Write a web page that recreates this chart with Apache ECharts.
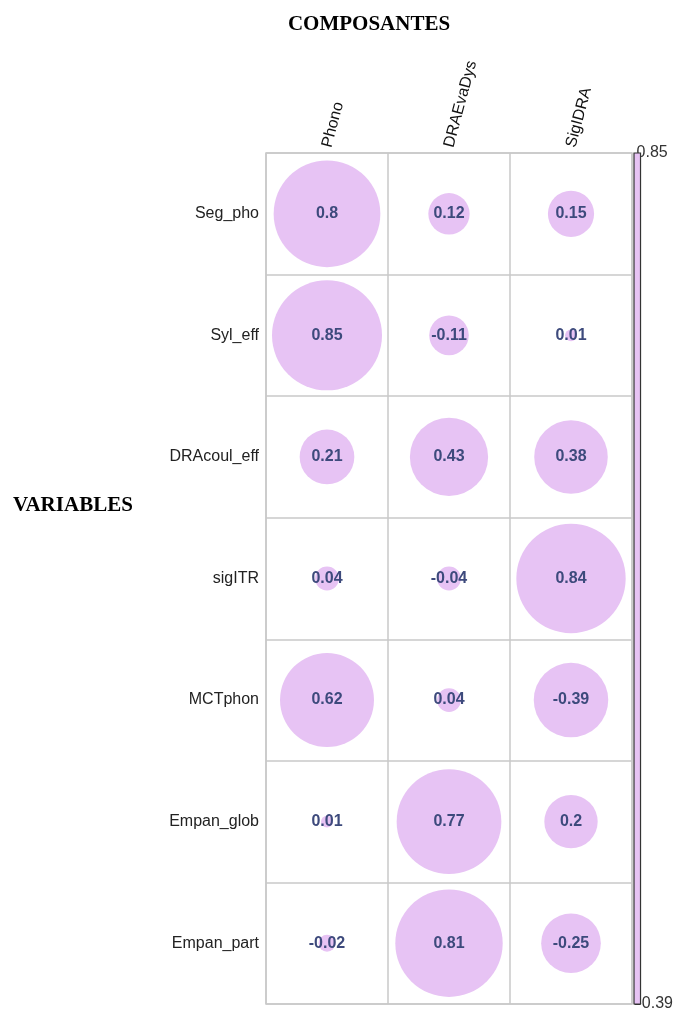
<!DOCTYPE html>
<html>
<head>
<meta charset="utf-8">
<script src="https://cdn.jsdelivr.net/npm/echarts@6/dist/echarts.min.js"></script>
<style>
  html, body { margin: 0; padding: 0; background: #fff; }
  #chart { width: 676px; height: 1014px; }
</style>
</head>
<body>
<div id="chart"></div>
<script>
// Loadings of each variable on the three components
const components = ['Phono', 'DRAEvaDys', 'SigIDRA'];
const variables = ['Seg_pho', 'Syl_eff', 'DRAcoul_eff', 'sigITR', 'MCTphon', 'Empan_glob', 'Empan_part'];
const phono     = [0.8, 0.85, 0.21, 0.04, 0.62, 0.01, -0.02];
const draEvaDys = [0.12, -0.11, 0.43, -0.04, 0.04, 0.77, 0.81];
const sigIDRA   = [0.15, 0.01, 0.38, 0.84, -0.39, 0.2, -0.25];
const scaleMin = -0.39;
const scaleMax = 0.85;

const columns = [phono, draEvaDys, sigIDRA];
const points = [];
columns.forEach((col, c) => col.forEach((v, r) => points.push([c, r, v])));
const maxAbs = Math.max(...points.map(p => Math.abs(p[2])));

const FILL = '#e7c3f4';
const chart = echarts.init(document.getElementById('chart'));

chart.setOption({
  animation: false,
  backgroundColor: '#fff',
  title: [
    { text: 'COMPOSANTES', left: 364, top: 9, textAlign: 'center',
      textStyle: { fontFamily: 'Liberation Serif', fontWeight: 'bold', fontSize: 21, color: '#000' } },
    { text: 'VARIABLES', left: 8, top: 490,
      textStyle: { fontFamily: 'Liberation Serif', fontWeight: 'bold', fontSize: 21, color: '#000' } }
  ],
  grid: [
    { left: 266, top: 153, width: 366, height: 851, show: true, borderColor: '#c8c8c8', borderWidth: 1.5, containLabel: false },
    { left: 634, top: 153, width: 7, height: 851, containLabel: false }
  ],
  xAxis: [
    { gridIndex: 0, type: 'category', data: components, position: 'top',
      axisLine: { show: false }, axisTick: { show: false },
      splitLine: { show: true, interval: 0, lineStyle: { color: '#c8c8c8', width: 1.5 } },
      axisLabel: { rotate: -75, margin: 6, fontFamily: 'Liberation Sans', fontSize: 16, color: '#111' } },
    { gridIndex: 1, type: 'category', data: ['c'], show: false }
  ],
  yAxis: [
    { gridIndex: 0, type: 'category', data: variables, inverse: true,
      axisLine: { show: false }, axisTick: { show: false },
      splitLine: { show: true, interval: 0, lineStyle: { color: '#c8c8c8', width: 1.5 } },
      axisLabel: { margin: 7, fontFamily: 'Liberation Sans', fontSize: 16, color: '#222' } },
    { gridIndex: 1, type: 'value', min: scaleMin, max: scaleMax, position: 'right',
      axisLine: { show: false }, splitLine: { show: false },
      axisTick: { show: true, inside: true, length: 6, customValues: [scaleMin, scaleMax], lineStyle: { color: '#333' } },
      axisLabel: { show: true, customValues: [scaleMin, scaleMax], margin: -4,
        fontFamily: 'Liberation Sans', fontSize: 16, color: '#333',
        formatter: v => String(Math.round(v * 100) / 100) } }
  ],
  series: [
    {
      type: 'scatter',
      xAxisIndex: 0, yAxisIndex: 0,
      data: points,
      symbol: 'circle',
      symbolSize: d => 110 * Math.sqrt(Math.abs(d[2]) / maxAbs),
      itemStyle: { color: FILL, opacity: 1 },
      label: {
        show: true, position: 'inside',
        formatter: p => String(p.value[2]),
        fontFamily: 'Liberation Sans', fontWeight: 'bold', fontSize: 16, color: '#3d4a7c'
      },
      emphasis: { disabled: true }
    },
    {
      type: 'custom',
      xAxisIndex: 1, yAxisIndex: 1,
      data: [[0, scaleMin, scaleMax]],
      renderItem: (params, api) => {
        const top = api.coord([0, api.value(2)]);
        const bottom = api.coord([0, api.value(1)]);
        const w = api.size([1, 0])[0];
        return {
          type: 'rect',
          shape: { x: top[0] - w / 2, y: top[1], width: w, height: bottom[1] - top[1] },
          style: { fill: FILL, stroke: '#333', lineWidth: 1.2 }
        };
      },
      silent: true
    }
  ]
});
</script>
</body>
</html>
